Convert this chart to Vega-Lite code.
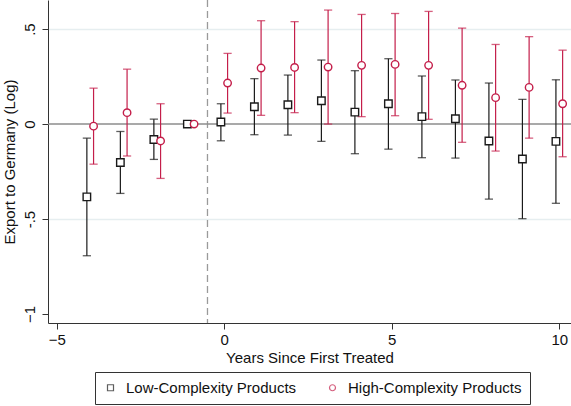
{
  "$schema": "https://vega.github.io/schema/vega-lite/v6.json",
  "width": 523,
  "height": 323,
  "autosize": {"type": "none"},
  "padding": {"left": 48, "top": 0, "right": 0, "bottom": 83},
  "background": "white",
  "config": {
    "font": "Liberation Sans",
    "view": {"stroke": null},
    "axis": {
      "labelFontSize": 15,
      "titleFontSize": 15,
      "titleFontWeight": "normal",
      "labelColor": "#111111",
      "titleColor": "#111111",
      "domainColor": "#333333",
      "tickColor": "#333333",
      "domainWidth": 1,
      "tickWidth": 1,
      "tickSize": 6
    },
    "legend": {
      "labelFontSize": 15,
      "labelColor": "#111111",
      "labelLimit": 400,
      "strokeColor": "#333333",
      "padding": 8,
      "symbolSize": 36,
      "symbolStrokeWidth": 1.2,
      "symbolFillColor": "white",
      "columnPadding": 28,
      "labelOffset": 8
    }
  },
  "layer": [
    {
      "data": {"values": [{"xpos": -0.5}]},
      "mark": {"type": "rule", "color": "#9a9a9a", "strokeWidth": 1.3, "strokeDash": [7, 4]},
      "encoding": {
        "x": {"field": "xpos", "type": "quantitative", "title": "Years Since First Treated", "scale": {"domain": [-5.26, 10.35], "nice": false, "zero": false}}
      }
    },
    {
      "data": {"values": [{"b": 0}]},
      "mark": {"type": "rule", "color": "#8c8c8c", "strokeWidth": 1.6},
      "encoding": {
        "y": {"field": "b", "type": "quantitative", "title": "Export to Germany (Log)", "scale": {"domain": [-1.047, 0.653], "nice": false, "zero": false}}
      }
    },
    {
      "data": {
        "values": [
          {"t": -4, "series": "Low-Complexity Products", "b": -0.383, "lo": -0.693, "hi": -0.074},
          {"t": -3, "series": "Low-Complexity Products", "b": -0.202, "lo": -0.365, "hi": -0.039},
          {"t": -2, "series": "Low-Complexity Products", "b": -0.081, "lo": -0.186, "hi": 0.026},
          {"t": -1, "series": "Low-Complexity Products", "b": 0, "lo": null, "hi": null},
          {"t": 0, "series": "Low-Complexity Products", "b": 0.011, "lo": -0.088, "hi": 0.107},
          {"t": 1, "series": "Low-Complexity Products", "b": 0.091, "lo": -0.056, "hi": 0.239},
          {"t": 2, "series": "Low-Complexity Products", "b": 0.102, "lo": -0.058, "hi": 0.258},
          {"t": 3, "series": "Low-Complexity Products", "b": 0.123, "lo": -0.091, "hi": 0.337},
          {"t": 4, "series": "Low-Complexity Products", "b": 0.063, "lo": -0.156, "hi": 0.281},
          {"t": 5, "series": "Low-Complexity Products", "b": 0.107, "lo": -0.132, "hi": 0.344},
          {"t": 6, "series": "Low-Complexity Products", "b": 0.039, "lo": -0.177, "hi": 0.253},
          {"t": 7, "series": "Low-Complexity Products", "b": 0.028, "lo": -0.179, "hi": 0.232},
          {"t": 8, "series": "Low-Complexity Products", "b": -0.089, "lo": -0.395, "hi": 0.216},
          {"t": 9, "series": "Low-Complexity Products", "b": -0.184, "lo": -0.498, "hi": 0.130},
          {"t": 10, "series": "Low-Complexity Products", "b": -0.091, "lo": -0.417, "hi": 0.233},
          {"t": -4, "series": "High-Complexity Products", "b": -0.011, "lo": -0.211, "hi": 0.189},
          {"t": -3, "series": "High-Complexity Products", "b": 0.060, "lo": -0.168, "hi": 0.289},
          {"t": -2, "series": "High-Complexity Products", "b": -0.089, "lo": -0.286, "hi": 0.107},
          {"t": -1, "series": "High-Complexity Products", "b": 0, "lo": null, "hi": null},
          {"t": 0, "series": "High-Complexity Products", "b": 0.216, "lo": 0.058, "hi": 0.372},
          {"t": 1, "series": "High-Complexity Products", "b": 0.295, "lo": 0.046, "hi": 0.544},
          {"t": 2, "series": "High-Complexity Products", "b": 0.298, "lo": 0.060, "hi": 0.539},
          {"t": 3, "series": "High-Complexity Products", "b": 0.300, "lo": 0.000, "hi": 0.600},
          {"t": 4, "series": "High-Complexity Products", "b": 0.309, "lo": 0.039, "hi": 0.577},
          {"t": 5, "series": "High-Complexity Products", "b": 0.314, "lo": 0.044, "hi": 0.582},
          {"t": 6, "series": "High-Complexity Products", "b": 0.309, "lo": 0.025, "hi": 0.593},
          {"t": 7, "series": "High-Complexity Products", "b": 0.204, "lo": -0.096, "hi": 0.505},
          {"t": 8, "series": "High-Complexity Products", "b": 0.139, "lo": -0.142, "hi": 0.419},
          {"t": 9, "series": "High-Complexity Products", "b": 0.193, "lo": -0.074, "hi": 0.460},
          {"t": 10, "series": "High-Complexity Products", "b": 0.107, "lo": -0.172, "hi": 0.389}
        ]
      },
      "transform": [
        {"calculate": "datum.t + (datum.series === 'Low-Complexity Products' ? -0.1 : 0.1)", "as": "xpos"}
      ],
      "encoding": {
        "x": {
          "field": "xpos",
          "type": "quantitative",
          "title": "Years Since First Treated",
          "scale": {"domain": [-5.26, 10.35], "nice": false, "zero": false},
          "axis": {
            "title": "Years Since First Treated",
            "values": [-5, 0, 5, 10],
            "format": "d",
            "grid": false,
            "labelPadding": 3,
            "titlePadding": 3
          }
        },
        "y": {
          "field": "b",
          "type": "quantitative",
          "title": "Export to Germany (Log)",
          "scale": {"domain": [-1.047, 0.653], "nice": false, "zero": false},
          "axis": {
            "title": "Export to Germany (Log)",
            "values": [-1, -0.5, 0, 0.5],
            "labelExpr": "datum.value == 0.5 ? '.5' : datum.value == -0.5 ? '-.5' : format(datum.value, 'd')",
            "labelAngle": -90,
            "labelAlign": "center",
            "labelBaseline": "bottom",
            "labelPadding": 5,
            "titlePadding": 5,
            "grid": true,
            "gridWidth": 1.5,
            "gridColor": {"condition": {"test": "abs(datum.value) == 0.5", "value": "#e6eef0"}, "value": "rgba(0,0,0,0)"}
          }
        },
        "color": {
          "field": "series",
          "type": "nominal",
          "scale": {"domain": ["Low-Complexity Products", "High-Complexity Products"], "range": ["#1a1a1a", "#c41e4a"]},
          "legend": {
            "title": null,
            "orient": "none",
            "legendX": 47,
            "legendY": 372,
            "direction": "horizontal"
          }
        }
      },
      "layer": [
        {
          "transform": [{"filter": "isValid(datum.lo)"}],
          "mark": {"type": "rule", "strokeWidth": 1.2},
          "encoding": {
            "y": {"field": "lo", "type": "quantitative", "title": "Export to Germany (Log)"},
            "y2": {"field": "hi"}
          }
        },
        {
          "transform": [{"filter": "isValid(datum.lo)"}],
          "mark": {"type": "tick", "orient": "horizontal", "size": 7, "thickness": 0.1, "filled": false, "strokeWidth": 1.2},
          "encoding": {
            "y": {"field": "lo", "type": "quantitative", "title": "Export to Germany (Log)"}
          }
        },
        {
          "transform": [{"filter": "isValid(datum.hi)"}],
          "mark": {"type": "tick", "orient": "horizontal", "size": 7, "thickness": 0.1, "filled": false, "strokeWidth": 1.2},
          "encoding": {
            "y": {"field": "hi", "type": "quantitative", "title": "Export to Germany (Log)"}
          }
        },
        {
          "mark": {"type": "point", "filled": false, "fill": "white", "size": 56, "strokeWidth": 1.4, "opacity": 1},
          "encoding": {
            "shape": {
              "field": "series",
              "type": "nominal",
              "scale": {"domain": ["Low-Complexity Products", "High-Complexity Products"], "range": ["square", "circle"]},
              "legend": {
                "title": null,
                "orient": "none",
                "legendX": 47,
                "legendY": 372,
                "direction": "horizontal"
              }
            }
          }
        }
      ]
    }
  ]
}
